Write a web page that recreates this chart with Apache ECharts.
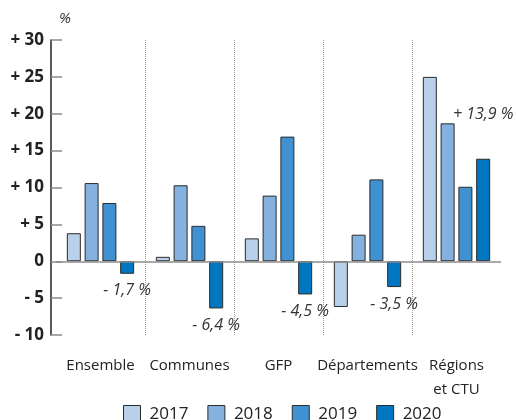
<!DOCTYPE html>
<html>
<head>
<meta charset="utf-8">
<script src="https://cdn.jsdelivr.net/npm/echarts@6/dist/echarts.min.js"></script>
<style>
  html, body { margin: 0; padding: 0; background: #fff; }
  #chart { width: 517px; height: 420px; }
</style>
</head>
<body>
<div id="chart"></div>
<script>
// Évolution annuelle par catégorie de collectivités (en %)
const categories = ['Ensemble', 'Communes', 'GFP', 'Départements', 'Régions\net CTU'];
const years = ['2017', '2018', '2019', '2020'];
const values2017 = [3.8, 0.6, 3.1, -6.2, 25.0];
const values2018 = [10.6, 10.3, 8.9, 3.6, 18.7];
const values2019 = [7.9, 4.8, 16.9, 11.1, 10.1];
const values2020 = [-1.7, -6.4, -4.5, -3.5, 13.9];
const yTickValues = [-10, -5, 0, 5, 10, 15, 20, 25, 30];
const yTickLabels = ['- 10', '- 5', '0', '+ 5', '+ 10', '+ 15', '+ 20', '+ 25', '+ 30'];

const colors = ['#b8d0ea', '#85b1df', '#4091d2', '#0077c0'];
const FONT = '"Open Sans", "Noto Sans", sans-serif';

function pctLabel(v) {
  const s = Math.abs(v).toFixed(1).replace('.', ',');
  return (v < 0 ? '- ' : '+ ') + s + ' %';
}

const seriesValues = [values2017, values2018, values2019, values2020];

const series = seriesValues.map((vals, i) => {
  const s = {
    name: years[i],
    type: 'bar',
    barWidth: 14,
    barGap: '27%',
    itemStyle: { color: colors[i], borderColor: '#2b2b2b', borderWidth: 1 },
    data: vals.slice()
  };
  if (i === 3) {
    // valeurs 2020 annotées sous / au-dessus de la barre
    s.data = vals.map(v => ({
      value: v,
      label: {
        show: true,
        position: v < 0 ? 'bottom' : 'top',
        distance: v < 0 ? 9 : 36,
        formatter: () => pctLabel(v),
        fontFamily: FONT,
        fontStyle: 'italic',
        fontSize: 16,
        color: '#333'
      }
    }));
  }
  if (i === 0) {
    s.markLine = {
      silent: true,
      symbol: 'none',
      label: { show: false },
      lineStyle: { color: '#8c8c8c', width: 1.5, type: 'solid' },
      data: [{ yAxis: 0 }]
    };
  }
  return s;
});

const chart = echarts.init(document.getElementById('chart'));
chart.setOption({
  animation: false,
  color: colors,
  title: {
    text: '%',
    left: 54,
    top: 6,
    textStyle: { fontFamily: FONT, fontStyle: 'italic', fontWeight: 'normal', fontSize: 15, color: '#333' }
  },
  grid: { left: 56, right: 16, top: 40, bottom: 85 },
  xAxis: {
    type: 'category',
    data: categories,
    position: 'bottom',
    axisLine: { show: false, onZero: false },
    axisTick: { show: false },
    axisLabel: {
      margin: 19,
      fontFamily: FONT,
      fontSize: 15,
      lineHeight: 24,
      color: '#222',
      interval: 0
    },
    splitLine: {
      show: true,
      showMinLine: false,
      showMaxLine: false,
      lineStyle: { color: '#9a9a9a', type: 'dotted', width: 1 }
    }
  },
  yAxis: {
    type: 'value',
    min: -10,
    max: 30,
    interval: 5,
    offset: 5,
    axisLine: { show: true, lineStyle: { color: '#222', width: 1.5 } },
    axisTick: { show: true, inside: true, length: 11, lineStyle: { color: '#8c8c8c', width: 1.5 } },
    splitLine: { show: false },
    axisLabel: {
      margin: 7,
      fontFamily: FONT,
      fontWeight: 'bold',
      fontSize: 17,
      color: '#222',
      formatter: v => yTickLabels[yTickValues.indexOf(v)]
    }
  },
  legend: {
    data: years,
    top: 405,
    left: 123,
    padding: 0,
    itemWidth: 17,
    itemHeight: 17,
    itemGap: 19,
    icon: 'rect',
    itemStyle: { borderColor: '#2b2b2b', borderWidth: 1 },
    textStyle: { fontFamily: FONT, fontSize: 17, color: '#222', padding: [0, 0, 0, 4] }
  },
  series: series
});
</script>
</body>
</html>
